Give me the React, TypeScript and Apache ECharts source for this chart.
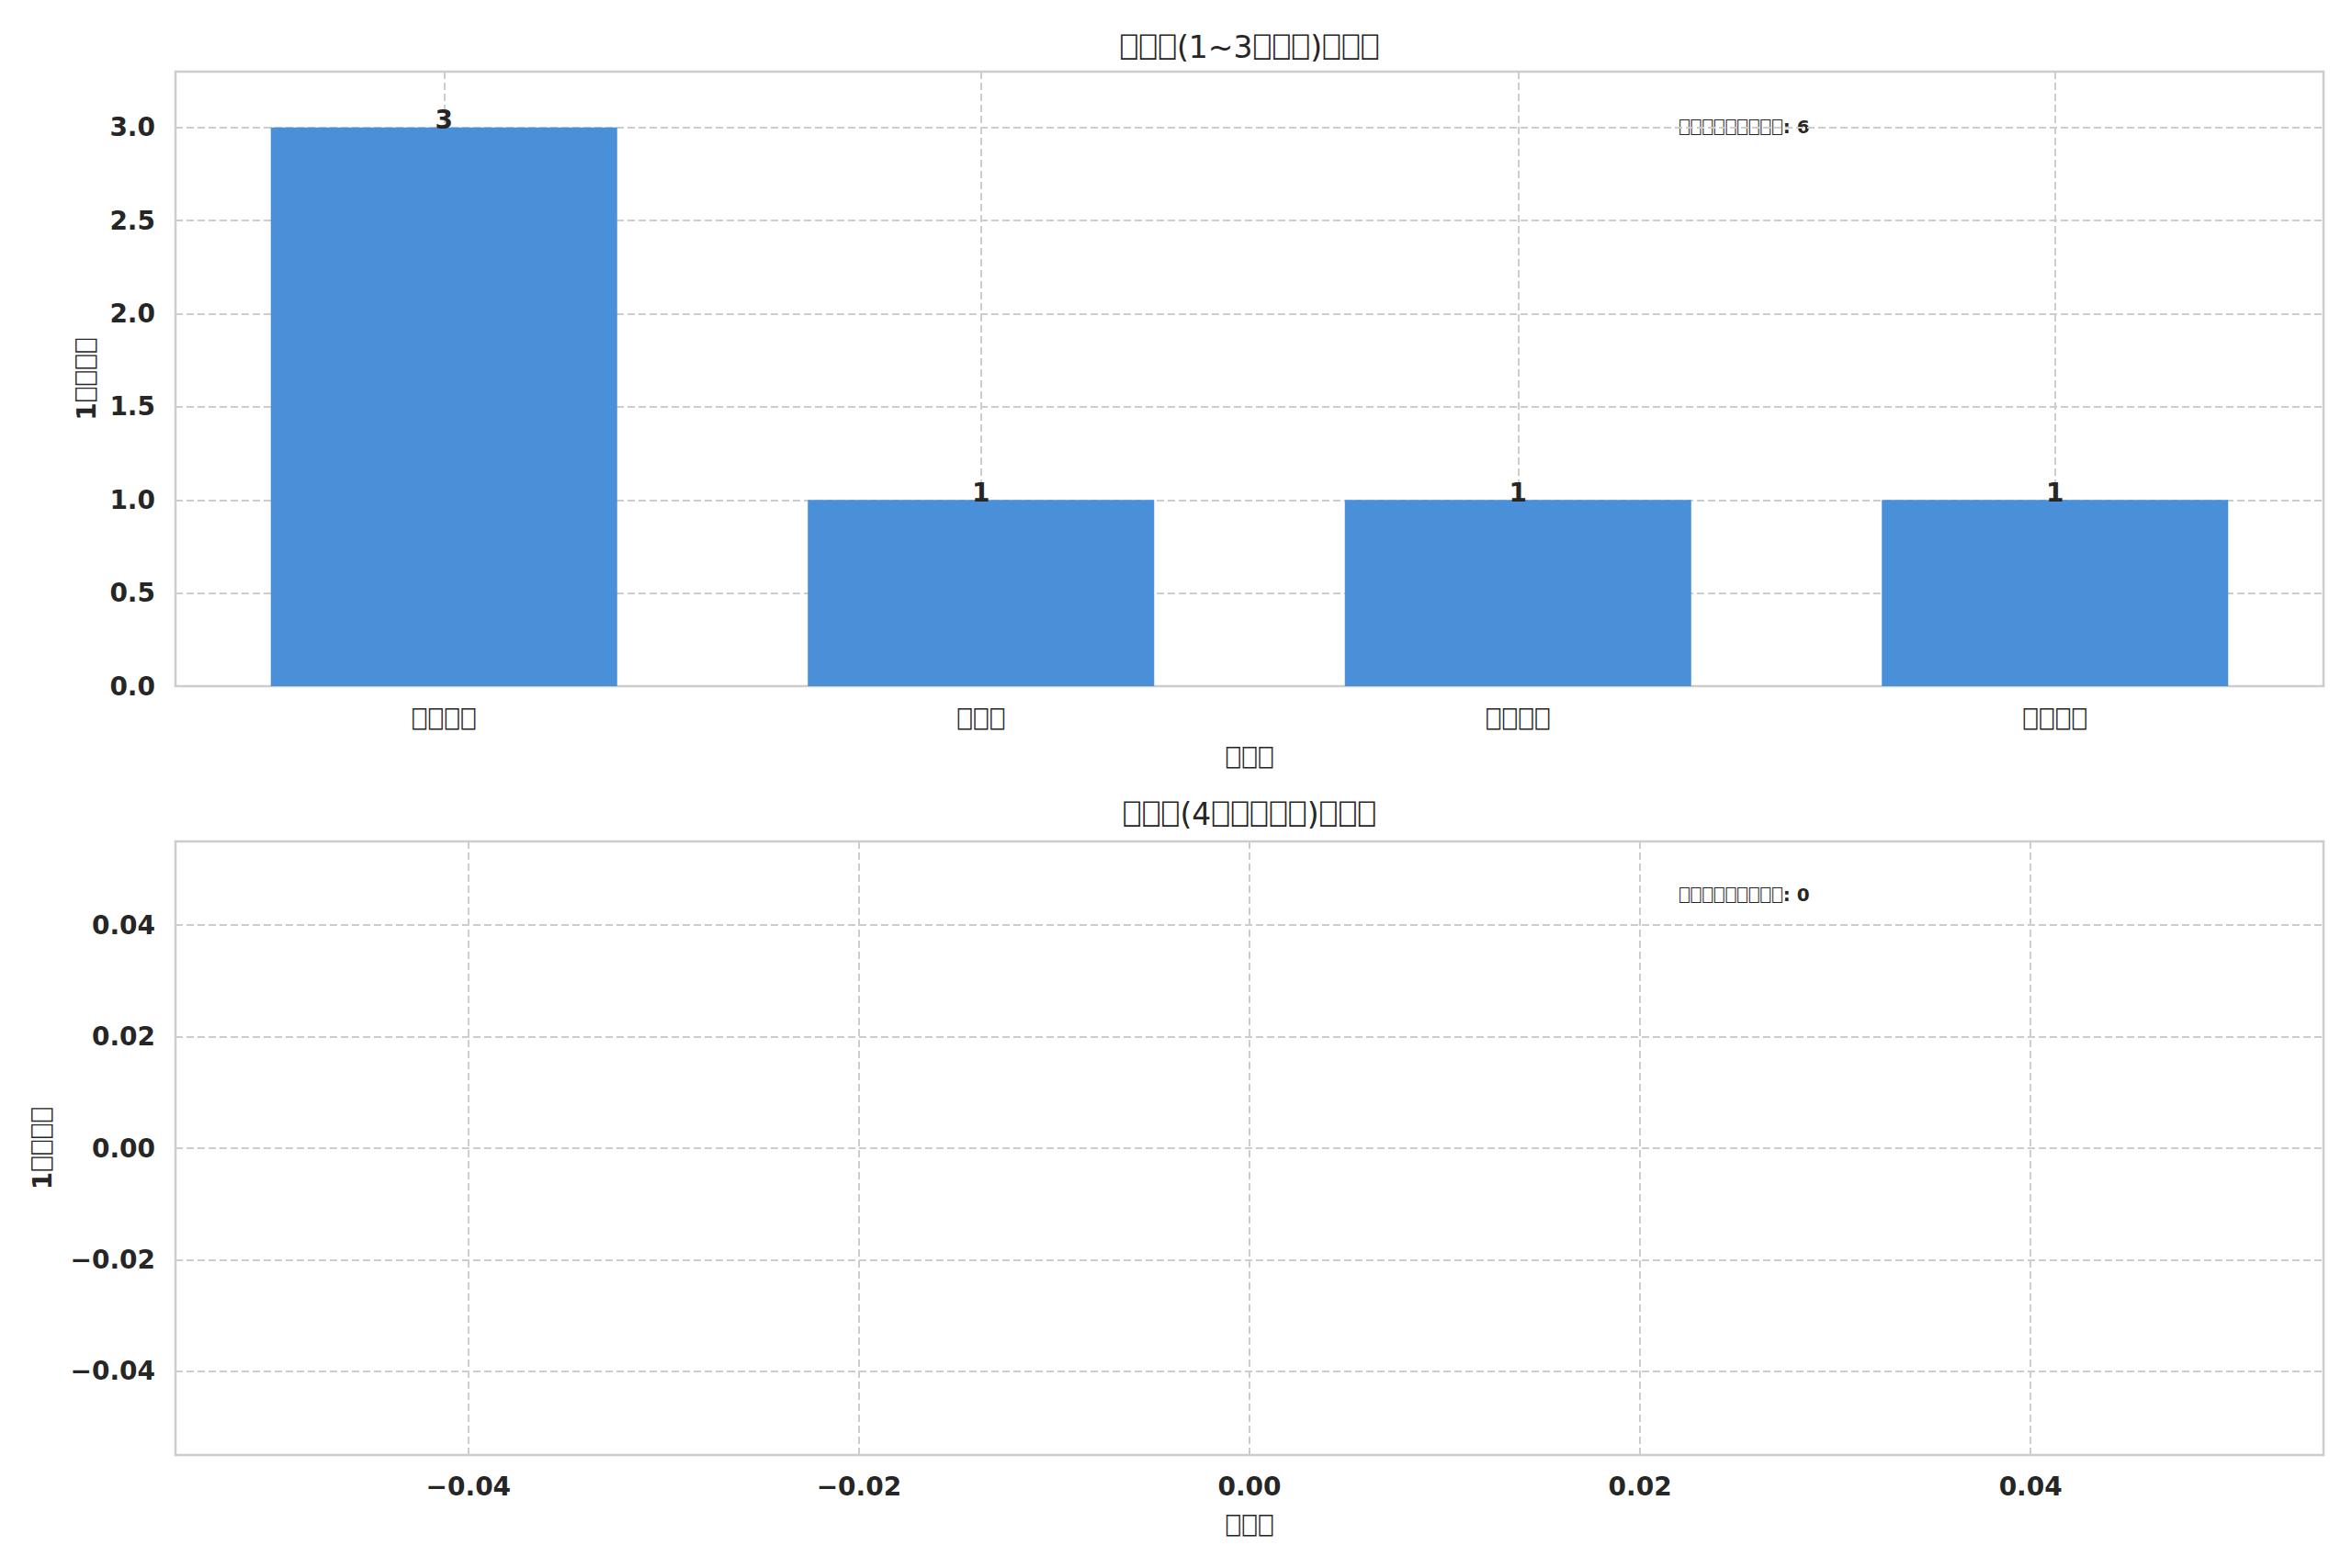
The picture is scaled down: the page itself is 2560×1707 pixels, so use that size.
import React, { useEffect, useRef } from 'react';
import * as echarts from 'echarts';

// ---- data ----
const topTitle = '⎕⎕⎕(1~3⎕⎕⎕)⎕⎕⎕';
const bottomTitle = '⎕⎕⎕(4⎕⎕⎕⎕⎕)⎕⎕⎕';
const categories = ['⎕⎕⎕⎕', '⎕⎕⎕', '⎕⎕⎕⎕', '⎕⎕⎕⎕'];
const topValues = [3, 1, 1, 1];
const bottomValues: number[][] = [];
const yAxisName = '1⎕⎕⎕⎕';
const xAxisName = '⎕⎕⎕';
const totalLabel = '⎕⎕⎕⎕⎕⎕⎕⎕⎕';
const bottomTicks = [-0.04, -0.02, 0, 0.02, 0.04];

const TXT = '#262626';
const GRIDC = '#cdcdcd';
const BAR = '#4A90D9';

function rt(s: string): string {
  return s.replace(/⎕/g, (m) => `{t|${m}}`);
}
function richFor(size: number) {
  const pad = Math.round(size * 0.045 * 10) / 10;
  return { t: { fontFamily: 'DejaVu Sans Mono', fontSize: size * 0.9, fontWeight: 'normal', color: TXT, padding: [0, pad, 0, pad] } };
}
function fmtNum(v: number, d: number) {
  const s = Math.abs(v) < 1e-12 ? (0).toFixed(d) : v.toFixed(d);
  return s.replace('-', '\u2212');
}

const splitLine = { show: true, lineStyle: { color: GRIDC, width: 2, type: [8, 4] as any } };

export default function App() {
  const ref = useRef<HTMLDivElement>(null);
  useEffect(() => {
    document.body.style.margin = '0';
    const chart = echarts.init(ref.current!, null, { renderer: 'svg' });
    const total = (arr: number[]) => arr.reduce((a, b) => a + b, 0);
    const bottomTotal = bottomValues.length;
    chart.setOption({
      animation: false,
      backgroundColor: '#ffffff',
      textStyle: { fontFamily: 'DejaVu Sans', color: TXT },
      grid: [
        { left: 191, top: 78, width: 2338, height: 669, show: true, borderColor: '#cccccc', borderWidth: 2.5, containLabel: false },
        { left: 191, top: 916, width: 2338, height: 668, show: true, borderColor: '#cccccc', borderWidth: 2.5, containLabel: false },
      ],
      xAxis: [
        {
          type: 'category', gridIndex: 0, data: categories,
          axisLine: { show: false }, axisTick: { show: false },
          axisLabel: { margin: 24, fontSize: 28, color: TXT, formatter: (v: string) => rt(v), rich: richFor(28) },
          splitLine: { ...splitLine, alignWithLabel: true },
          name: rt(xAxisName), nameLocation: 'middle', nameGap: 66,
          nameTextStyle: { fontSize: 28, fontWeight: 'bold', color: TXT, rich: richFor(28) },
        },
        {
          type: 'value', gridIndex: 1, min: -0.055, max: 0.055,
          axisLine: { show: false }, axisTick: { show: false, customValues: bottomTicks },
          axisLabel: { margin: 20, fontSize: 28, fontWeight: 'bold', color: TXT, customValues: bottomTicks, formatter: (v: number) => fmtNum(v, 2) },
          splitLine,
          name: rt(xAxisName), nameLocation: 'middle', nameGap: 65,
          nameTextStyle: { fontSize: 28, fontWeight: 'bold', color: TXT, rich: richFor(28) },
        },
      ],
      yAxis: [
        {
          type: 'value', gridIndex: 0, min: 0, max: 3.3, interval: 0.5,
          axisLine: { show: false }, axisTick: { show: false },
          axisLabel: { margin: 22, fontSize: 28, fontWeight: 'bold', color: TXT, showMaxLabel: false, formatter: (v: number) => fmtNum(v, 1) },
          splitLine,
          name: rt(yAxisName), nameLocation: 'middle', nameGap: 78, nameRotate: 90,
          nameTextStyle: { fontSize: 28, fontWeight: 'bold', color: TXT, rich: richFor(28) },
        },
        {
          type: 'value', gridIndex: 1, min: -0.055, max: 0.055,
          axisLine: { show: false }, axisTick: { show: false, customValues: bottomTicks },
          axisLabel: { margin: 22, fontSize: 28, fontWeight: 'bold', color: TXT, customValues: bottomTicks, formatter: (v: number) => fmtNum(v, 2) },
          splitLine,
          name: rt(yAxisName), nameLocation: 'middle', nameGap: 131, nameRotate: 90,
          nameTextStyle: { fontSize: 28, fontWeight: 'bold', color: TXT, rich: richFor(28) },
        },
      ],
      series: [
        {
          type: 'bar', xAxisIndex: 0, yAxisIndex: 0, data: topValues, barWidth: '64.5%',
          itemStyle: { color: BAR },
          label: { show: true, position: 'top', distance: -6, fontSize: 28, fontWeight: 'bold', color: TXT },
        },
        { type: 'bar', xAxisIndex: 1, yAxisIndex: 1, data: bottomValues },
      ],
      graphic: [
        { type: 'text', x: 1360, y: 51, style: { text: rt(topTitle), rich: richFor(33), fontSize: 33, fontFamily: 'DejaVu Sans', fill: TXT, textAlign: 'center', textVerticalAlign: 'middle' } },
        { type: 'text', x: 1360, y: 886, style: { text: rt(bottomTitle), rich: richFor(33), fontSize: 33, fontFamily: 'DejaVu Sans', fill: TXT, textAlign: 'center', textVerticalAlign: 'middle' } },
        { type: 'text', x: 1827, y: 138, style: { text: rt(totalLabel) + ': ' + total(topValues), rich: richFor(20), fontSize: 20, fontWeight: 'bold', fontFamily: 'DejaVu Sans', fill: TXT, textAlign: 'left', textVerticalAlign: 'middle' } },
        { type: 'text', x: 1827, y: 974, style: { text: rt(totalLabel) + ': ' + bottomTotal, rich: richFor(20), fontSize: 20, fontWeight: 'bold', fontFamily: 'DejaVu Sans', fill: TXT, textAlign: 'left', textVerticalAlign: 'middle' } },
      ],
    });
    return () => chart.dispose();
  }, []);
  return <div ref={ref} style={{ width: 2560, height: 1707 }} />;
}
